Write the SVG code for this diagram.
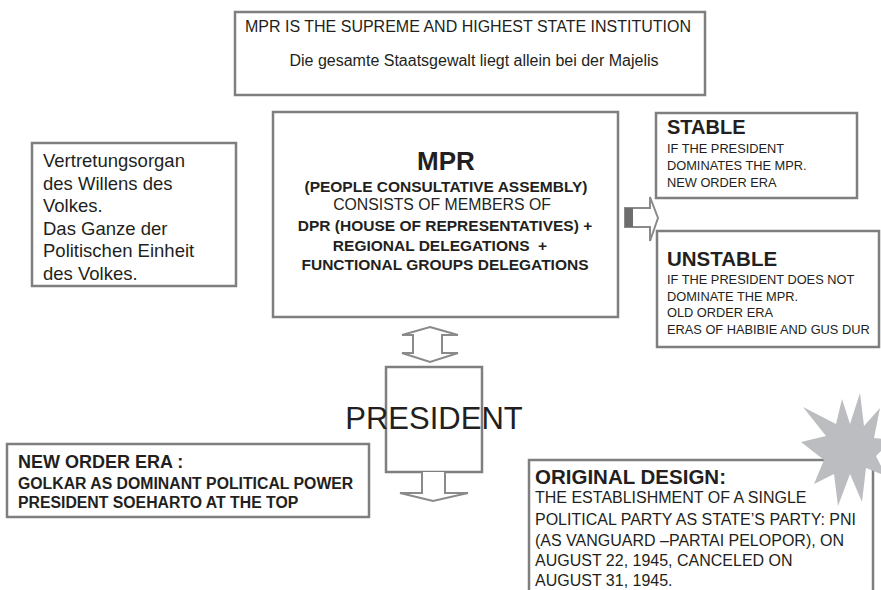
<svg xmlns="http://www.w3.org/2000/svg" width="881" height="590" viewBox="0 0 881 590">
<style>
.box{fill:#fff;stroke:#7f7f7f;stroke-width:2.5}
.arr{fill:#fff;stroke:#8a8a8a;stroke-width:2;stroke-linejoin:miter}
text{font-family:"Liberation Sans",Arial,sans-serif;fill:#231f20}
.b{font-weight:bold}
</style>
<rect width="881" height="590" fill="#fff"/>
<g id="top">
<rect class="box" x="235" y="12" width="470" height="83"/>
<text x="245" y="32" font-size="16">MPR IS THE SUPREME AND HIGHEST STATE INSTITUTION</text>
<text x="474" y="66" font-size="16" text-anchor="middle">Die gesamte Staatsgewalt liegt allein bei der Majelis</text>
</g>
<g id="mpr">
<rect class="box" x="273" y="112" width="345" height="205"/>
<text x="446" y="170" font-size="26" class="b" text-anchor="middle">MPR</text>
<text x="446" y="192" font-size="15.5" class="b" text-anchor="middle">(PEOPLE CONSULTATIVE ASSEMBLY)</text>
<text x="442" y="210" font-size="15.8" text-anchor="middle">CONSISTS OF MEMBERS OF</text>
<text x="445" y="231" font-size="15.5" class="b" text-anchor="middle">DPR (HOUSE OF REPRESENTATIVES) +</text>
<text x="440" y="251" font-size="15.5" class="b" text-anchor="middle" xml:space="preserve">REGIONAL DELEGATIONS  +</text>
<text x="445" y="270" font-size="15.5" class="b" text-anchor="middle">FUNCTIONAL GROUPS DELEGATIONS</text>
</g>
<g id="left">
<rect class="box" x="32" y="143" width="204" height="143"/>
<text font-size="18.5">
<tspan x="43" y="167">Vertretungsorgan</tspan>
<tspan x="43" y="189.5">des Willens des</tspan>
<tspan x="43" y="212">Volkes.</tspan>
<tspan x="43" y="234.5">Das Ganze der</tspan>
<tspan x="43" y="257">Politischen Einheit</tspan>
<tspan x="43" y="279.5">des Volkes.</tspan>
</text>
</g>
<g id="stable">
<rect class="box" x="656" y="113" width="201" height="85"/>
<text x="667" y="134" font-size="20" class="b">STABLE</text>
<text font-size="12.8">
<tspan x="667" y="153">IF THE PRESIDENT</tspan>
<tspan x="667" y="170">DOMINATES THE MPR.</tspan>
<tspan x="667" y="187">NEW ORDER ERA</tspan>
</text>
</g>
<g id="unstable">
<rect class="box" x="657" y="231" width="222" height="116"/>
<text x="667" y="266" font-size="20.5" class="b">UNSTABLE</text>
<text font-size="12.8">
<tspan x="667" y="284">IF THE PRESIDENT DOES NOT</tspan>
<tspan x="667" y="300.5">DOMINATE THE MPR.</tspan>
<tspan x="667" y="317">OLD ORDER ERA</tspan>
<tspan x="667" y="333.5">ERAS OF HABIBIE AND GUS DUR</tspan>
</text>
</g>
<g id="president">
<rect class="box" x="386" y="367" width="96" height="105"/>
<text x="434" y="429" font-size="31" text-anchor="middle">PRESIDENT</text>
</g>
<g id="neworder">
<rect class="box" x="7" y="444" width="362" height="73"/>
<text x="18" y="468" font-size="18" class="b">NEW ORDER ERA :</text>
<text x="18" y="489" font-size="15.8" class="b">GOLKAR AS DOMINANT POLITICAL POWER</text>
<text x="18" y="508" font-size="15.8" class="b">PRESIDENT SOEHARTO AT THE TOP</text>
</g>
<g id="original">
<rect class="box" x="529" y="460" width="344" height="140"/>
<text x="535" y="484" font-size="20.5" class="b">ORIGINAL DESIGN:</text>
<text font-size="16">
<tspan x="535" y="503">THE ESTABLISHMENT OF A SINGLE</tspan>
<tspan x="535" y="524.5">POLITICAL PARTY AS STATE’S PARTY: PNI</tspan>
<tspan x="535" y="545.5">(AS VANGUARD –PARTAI PELOPOR), ON</tspan>
<tspan x="535" y="566">AUGUST 22, 1945, CANCELED ON</tspan>
<tspan x="535" y="586">AUGUST 31, 1945.</tspan>
</text>
</g>
<g id="star">
<polygon fill="#bcbdc0" points="860,393 864,426 880,408 874,438 892,440 876,456 886,476 866,468 862,502 850,474 838,506 834,474 814,484 824,460 801,442 826,436 803,407 836,424 842,399 850,424"/>
</g>
<g id="connectors">
<path class="arr" d="M625,208 L650,208 L650,197 L658,218 L650,241 L650,227 L625,227 Z"/>
<rect x="625" y="208" width="8" height="19" fill="#6d6d6d"/>
<path class="arr" d="M430,327 L458,335 L442,335 L442,353 L458,353 L430,362 L402,353 L413,353 L413,335 L402,335 Z"/>
<path class="arr" d="M422,472 L422,493 L400,493 L433,501 L468,493 L445,493 L445,472"/>
</g>
</svg>
